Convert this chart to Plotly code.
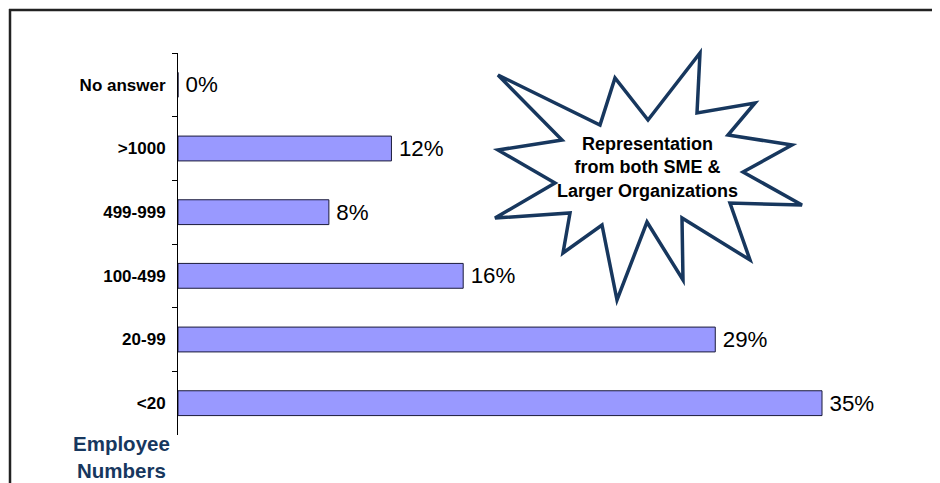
import plotly.graph_objects as go

categories = ["No answer", ">1000", "499-999", "100-499", "20-99", "<20"]
values = [0, 11.6, 8.2, 15.5, 29.2, 35.0]
value_labels = ["0%", "12%", "8%", "16%", "29%", "35%"]
axis_title_lines = ["Employee", "Numbers"]
callout_lines = ["Representation", "from both SME &", "Larger Organizations"]

OFF = 8  # page body margin
W, H = 940 - OFF, 483 - OFF
L, R, T, B = 178 - OFF, 10, 53 - OFF, 48
PW, PH = W - L - R, H - T - B
PX_PER_PCT = 18.4
FONT = "Liberation Sans, Arial, sans-serif"


def px(x):
    return (x - OFF - L) / PW


def py(y):
    return (H - B - (y - OFF)) / PH


fig = go.Figure()
fig.add_trace(go.Bar(
    y=categories, x=values, orientation="h",
    marker=dict(color="#9999FF", line=dict(color="#1a1a3a", width=1)),
    text=["\u2009" + s for s in value_labels], textposition="outside", cliponaxis=False,
    textfont=dict(family=FONT, size=22.5, color="black"),
    hoverinfo="skip",
))

# starburst callout (decoration), in page pixels
star_px = [(498, 75), (600, 125), (615, 78), (648, 120), (700, 53), (697, 113),
           (755, 103), (728, 135), (792, 145), (743, 172), (802, 205), (730, 203),
           (750, 260), (682, 218), (683, 280), (647, 222), (617, 300), (602, 225),
           (563, 253), (570, 213), (495, 218), (555, 183), (498, 150), (562, 140)]
path = "M " + " L ".join(f"{px(x):.5f},{py(y):.5f}" for x, y in star_px) + " Z"

shapes = [
    dict(type="path", xref="paper", yref="paper", path=path,
         fillcolor="white", line=dict(color="#17375E", width=3.5)),
    dict(type="line", xref="paper", yref="paper", x0=px(9), x1=px(945), y0=py(10), y1=py(10),
         line=dict(color="#222222", width=2.5)),
    dict(type="line", xref="paper", yref="paper", x0=px(10), x1=px(10), y0=py(9), y1=py(490),
         line=dict(color="#222222", width=2.5)),
]

annotations = [
    dict(xref="paper", yref="paper", x=px(647), y=py(167), text="<br>".join(callout_lines),
         showarrow=False, align="center", xanchor="center", yanchor="middle",
         font=dict(family=FONT, size=18, color="black", weight="bold")),
    dict(xref="paper", yref="paper", x=px(121), y=py(457), text="<br>".join(axis_title_lines),
         showarrow=False, align="center", xanchor="center", yanchor="middle",
         font=dict(family=FONT, size=20.5, color="#17375E", weight="bold")),
]

fig.update_layout(
    width=W, height=H,
    margin=dict(l=L, r=R, t=T, b=B),
    paper_bgcolor="white", plot_bgcolor="white",
    showlegend=False, bargap=0.61,
    shapes=shapes, annotations=annotations,
    xaxis=dict(range=[0, PW / PX_PER_PCT], visible=False, fixedrange=True),
    yaxis=dict(autorange="reversed", showline=True, linecolor="black", linewidth=1,
               ticks="outside", ticklen=5, tickcolor="black", tickson="boundaries",
               ticklabelstandoff=8, showgrid=False,
               tickfont=dict(family=FONT, size=17, color="black", weight="bold")),
)

fig.write_html("out.html")
